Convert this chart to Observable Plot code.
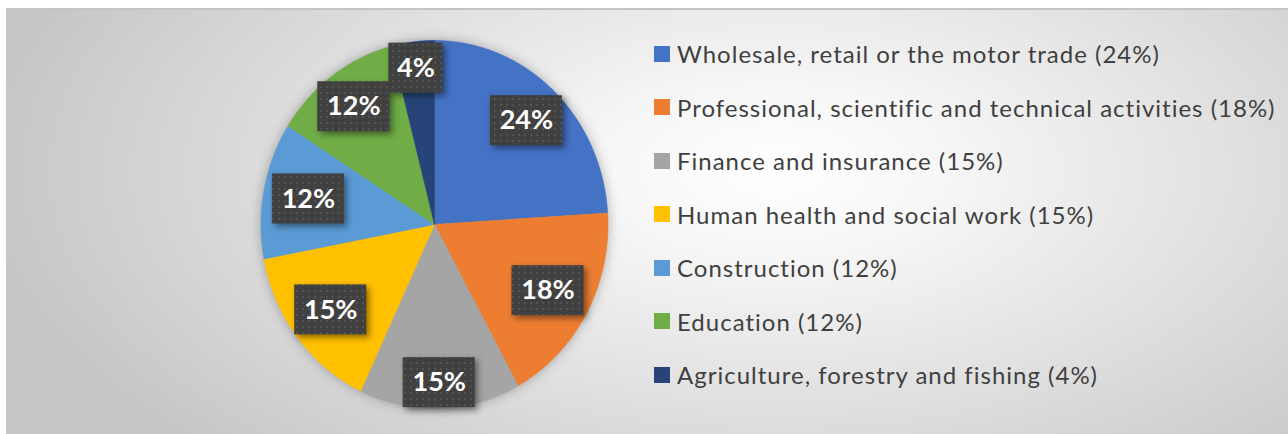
<!DOCTYPE html>
<html>
<head>
<meta charset="utf-8">
<script src="https://cdn.jsdelivr.net/npm/d3@7"></script>
<script src="https://cdn.jsdelivr.net/npm/@observablehq/plot@0.6"></script>
<style>
  html, body { margin: 0; padding: 0; background: #ffffff; }
  #wrap { position: relative; width: 1288px; height: 434px; overflow: hidden; }
  #bg { position: absolute; left: 6px; top: 8px; right: 0; bottom: 0;
        border-top: 2px solid #c4c4c4;
        background: radial-gradient(ellipse 62% 95% at 60% 38%, #ffffff 0%, #f6f6f6 22%, #e2e2e2 55%, #c6c6c6 100%); }
  #chart { position: absolute; left: 0; top: 0; }
  #legend { position: absolute; left: 654px; top: 27px; font-family: Lato, "Open Sans", sans-serif; font-size: 24px; color: #404040; letter-spacing: 1px; font-variant-ligatures: none; }
  .item { display: flex; align-items: center; height: 53.5px; white-space: nowrap; }
  .sw { width: 16px; height: 16px; margin-right: 7px; flex: none; }
</style>
</head>
<body>
<div id="wrap"><div id="bg"></div><div id="chart"></div><div id="legend"></div></div>
<script>
const categories = [
  "Wholesale, retail or the motor trade",
  "Professional, scientific and technical activities",
  "Finance and insurance",
  "Human health and social work",
  "Construction",
  "Education",
  "Agriculture, forestry and fishing"
];
const shares = [24, 18, 15, 15, 12, 12, 4];
const colors = ["#4472C4", "#ED7D31", "#A5A5A5", "#FFC000", "#5B9BD5", "#70AD47", "#264478"];
const valueLabels = ["24%", "18%", "15%", "15%", "12%", "12%", "4%"];
const legendLabels = [
  "Wholesale, retail or the motor trade (24%)",
  "Professional, scientific and technical activities (18%)",
  "Finance and insurance (15%)",
  "Human health and social work (15%)",
  "Construction (12%)",
  "Education (12%)",
  "Agriculture, forestry and fishing (4%)"
];

// layout
const W = 1288, H = 434;
const cx = 434, cy = 224, rx = 173.5, ry = 184;

const arcs = d3.pie().sort(null).value(d => d)(shares);

// slice outlines (angles measured clockwise from 12 o'clock)
const slicePts = [];
arcs.forEach((a, i) => {
  const name = categories[i];
  slicePts.push({name, x: 0, y: 0});
  const n = Math.max(2, Math.ceil((a.endAngle - a.startAngle) / 0.004));
  for (let k = 0; k <= n; ++k) {
    const t = a.startAngle + (a.endAngle - a.startAngle) * k / n;
    slicePts.push({name, x: Math.sin(t), y: Math.cos(t)});
  }
  slicePts.push({name, x: 0, y: 0});
});

// label placement (best-fit style: pushed outward near top/bottom)
const labelData = arcs.map((a, i) => {
  const m = (a.startAngle + a.endAngle) / 2;
  const r = 0.74 + 0.12 * Math.pow(Math.cos(m), 4);
  const lx = r * Math.sin(m), ly = r * Math.cos(m);
  const bw = 18 * (valueLabels[i].length + 1), bh = 50;
  return {
    label: valueLabels[i], x: lx, y: ly,
    x1: lx - (bw / 2) / rx, x2: lx + (bw / 2) / rx,
    y1: ly - (bh / 2) / ry, y2: ly + (bh / 2) / ry
  };
});

const svg = Plot.plot({
  width: W, height: H,
  margin: 0,
  style: {background: "transparent", overflow: "visible"},
  x: {domain: [-1, 1], range: [cx - rx, cx + rx], axis: null},
  y: {domain: [-1, 1], range: [cy + ry, cy - ry], axis: null},
  color: {domain: categories, range: colors},
  marks: [
    Plot.line(slicePts, {x: "x", y: "y", z: "name", fill: "name", stroke: "name", strokeWidth: 0.6, curve: "linear"}),
    Plot.rect(labelData, {x1: "x1", x2: "x2", y1: "y1", y2: "y2", fill: "url(#dots)"}),
    Plot.text(labelData, {x: "x", y: "y", text: "label", fill: "white", fontSize: 27, fontWeight: "bold", fontFamily: "Lato, 'Open Sans', sans-serif"})
  ]
});

const s = d3.select(svg);
s.insert("defs", ":first-child").html(`
  <pattern id="dots" width="6" height="6" patternUnits="userSpaceOnUse">
    <rect width="6" height="6" fill="#404040"></rect>
    <rect x="2" y="2" width="2" height="2" fill="#525252"></rect>
  </pattern>`);
s.select('g[aria-label="line"]').style("filter", "drop-shadow(0px 0px 6px rgba(0,0,0,0.28))");
s.select('g[aria-label="rect"]').style("filter", "drop-shadow(3px 3px 3px rgba(0,0,0,0.45))");
document.getElementById("chart").appendChild(svg);

// legend
const leg = d3.select("#legend");
legendLabels.forEach((t, i) => {
  const it = leg.append("div").attr("class", "item");
  it.append("div").attr("class", "sw").style("background", colors[i]);
  it.append("span").text(t);
});
</script>
</body>
</html>
